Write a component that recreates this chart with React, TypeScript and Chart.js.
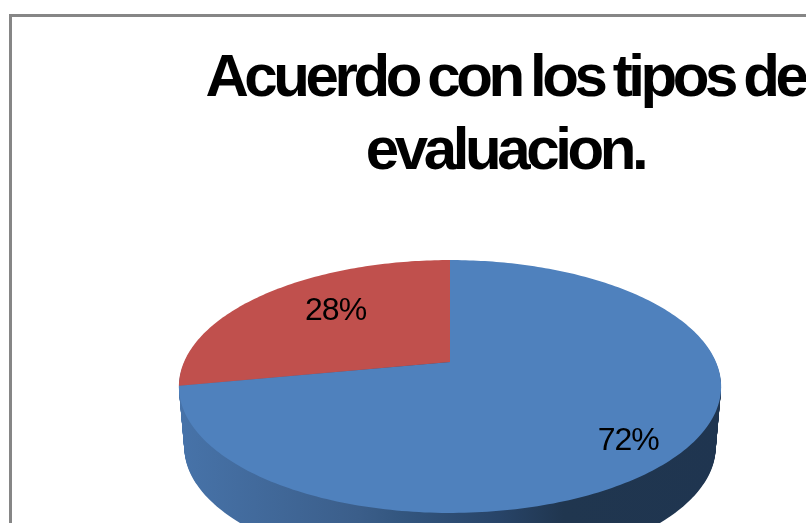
import React, { useEffect, useRef } from "react";
import { Chart, registerables } from "chart.js";

Chart.register(...registerables);

const titleLines = ["Acuerdo con los tipos de", "evaluacion."];
const categories = ["De acuerdo", "En desacuerdo"];
const values = [72, 28];
const sliceColors = ["#4f81bd", "#c0504d"];
const labelDistance = [0.83, 0.653];

const TILT = 0.1936;
const SQUASH = 121.7 / 266;
const DEPTH = 61;
const DEPTH_SHRINK = 0.02;
const PIE_SHIFT = -55;
const LABEL_TURN = (4.6 * Math.PI) / 180;

const project = (el: any, angle: number, f = 1, depth = 0) => {
  const scale = 1 - (DEPTH_SHRINK * depth) / DEPTH;
  const u = Math.cos(angle) * f;
  const v = Math.sin(angle) * f;
  const w = 1 - TILT * v;
  return {
    x: el.x + PIE_SHIFT + (el.outerRadius * scale * u) / w,
    y: el.y + depth + (el.outerRadius * SQUASH * scale * v) / w,
  };
};

const tiltedPie = {
  id: "tiltedPie",
  beforeDraw(chart: any) {
    chart.ctx.letterSpacing = "-4.4px";
    chart.ctx.wordSpacing = "-3px";
  },
  beforeDatasetsDraw(chart: any) {
    const { ctx } = chart;
    const arcs = chart.getDatasetMeta(0).data;
    const el = arcs[0];
    const steps = 360;
    const cx = el.x + PIE_SHIFT;

    // side wall
    const wall = ctx.createLinearGradient(cx - 271, 0, cx + 271, 0);
    wall.addColorStop(0, "#4773a9");
    wall.addColorStop(0.33, "#3b5e8a");
    wall.addColorStop(0.41, "#33567f");
    wall.addColorStop(0.59, "#284468");
    wall.addColorStop(0.71, "#20364f");
    wall.addColorStop(1, "#1f3550");
    ctx.save();
    ctx.fillStyle = wall;
    for (let d = DEPTH; d > 0; d--) {
      ctx.beginPath();
      for (let i = 0; i <= steps; i++) {
        const p = project(el, (i / steps) * Math.PI * 2, 1, d);
        if (i === 0) ctx.moveTo(p.x, p.y);
        else ctx.lineTo(p.x, p.y);
      }
      ctx.closePath();
      ctx.fill();
    }

    // top faces
    arcs.forEach((arc: any, index: number) => {
      const n = Math.ceil(((arc.endAngle - arc.startAngle) / (Math.PI * 2)) * steps);
      const apex = project(arc, 0, 0);
      ctx.beginPath();
      ctx.moveTo(apex.x, apex.y);
      for (let i = 0; i <= n; i++) {
        const p = project(arc, arc.startAngle + ((arc.endAngle - arc.startAngle) * i) / n);
        ctx.lineTo(p.x, p.y);
      }
      ctx.closePath();
      ctx.fillStyle = sliceColors[index];
      ctx.fill();
    });

    // percentage labels
    ctx.fillStyle = "#000000";
    ctx.font = "32px 'Liberation Sans'";
    ctx.letterSpacing = "-1px";
    ctx.wordSpacing = "0px";
    ctx.textAlign = "center";
    ctx.textBaseline = "middle";
    const total = values.reduce((a, b) => a + b, 0);
    arcs.forEach((arc: any, index: number) => {
      const mid = (arc.startAngle + arc.endAngle) / 2 + LABEL_TURN;
      const p = project(arc, mid, labelDistance[index]);
      ctx.fillText(`${Math.round((values[index] / total) * 100)}%`, p.x, p.y);
    });
    ctx.restore();
    return false;
  },
};

export default function App() {
  const ref = useRef<HTMLCanvasElement | null>(null);
  useEffect(() => {
    const chart = new Chart(ref.current as HTMLCanvasElement, {
      type: "pie",
      data: {
        labels: categories,
        datasets: [{ data: values, backgroundColor: sliceColors, borderWidth: 0, radius: 266 }],
      },
      options: {
        responsive: false,
        animation: false,
        plugins: {
          legend: { display: false },
          tooltip: { enabled: false },
          title: {
            display: true,
            text: titleLines,
            color: "#000000",
            font: { family: "'Liberation Sans'", size: 60, weight: "bold", lineHeight: 1.217 },
            padding: { top: 43, bottom: 0 },
          },
        },
      },
      plugins: [tiltedPie],
    } as any);
    return () => chart.destroy();
  }, []);
  return (
    <div style={{ position: "fixed", left: 0, top: 0, width: 806, height: 523, overflow: "hidden", background: "#ffffff" }}>
      <canvas ref={ref} width={1010} height={535} style={{ position: "absolute", left: 0, top: 0 }} />
      <div style={{ position: "absolute", left: 9, top: 14, width: 1000, height: 800, border: "3px solid #868686", pointerEvents: "none" }} />
    </div>
  );
}
